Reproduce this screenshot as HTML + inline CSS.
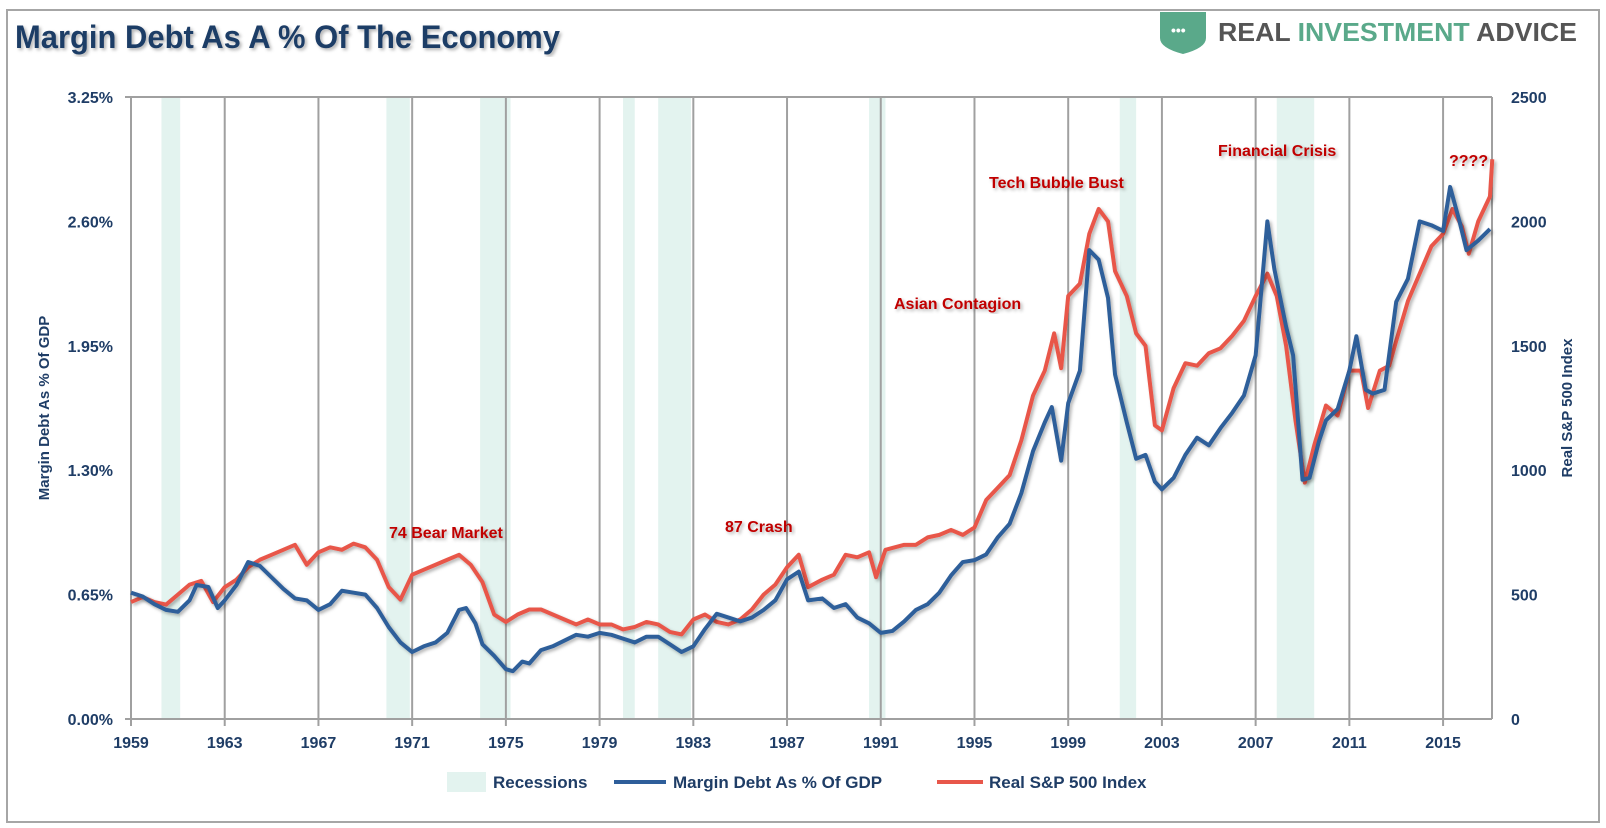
<!DOCTYPE html>
<html><head><meta charset="utf-8"><style>
body{margin:0;background:#fff}
svg{display:block}
text{font-family:"Liberation Sans",sans-serif;font-weight:bold}
</style></head><body>
<svg id="c" width="1606" height="828" xmlns="http://www.w3.org/2000/svg">
<defs>
<filter id="sh" x="-5%" y="-5%" width="110%" height="110%"><feDropShadow dx="2" dy="2" stdDeviation="1.5" flood-color="#000" flood-opacity="0.3"/></filter>
</defs>
<rect x="7" y="10" width="1592" height="812" fill="#fff" stroke="#a6a6a6" stroke-width="2"/>
<text x="15" y="48" font-size="32" fill="#1f3d66" textLength="545" lengthAdjust="spacingAndGlyphs" filter="url(#sh)">Margin Debt As A % Of The Economy</text>
<g>
<path d="M1160 12 h46 v26 q0 10 -23 16 q-23 -6 -23 -16z" fill="#5aa98a"/>
<text x="1171" y="35" font-size="14" fill="#fff">•••</text>
<text x="1218" y="41" font-size="26" fill="#555" textLength="359" lengthAdjust="spacingAndGlyphs">REAL <tspan fill="#5aa98a">INVESTMENT</tspan> ADVICE</text>
</g>
<g id="plot"></g>
<text transform="translate(49,408) rotate(-90)" text-anchor="middle" font-size="15" fill="#1f3d66">Margin Debt As % Of GDP</text>
<text transform="translate(1572,408) rotate(-90)" text-anchor="middle" font-size="15" fill="#1f3d66">Real S&amp;P 500 Index</text>
<g>
<rect x="447" y="772" width="39" height="20" fill="#e3f3ef"/>
<text x="493" y="788" font-size="17" fill="#1f3d66">Recessions</text>
<line x1="614" y1="782" x2="666" y2="782" stroke="#2e5e9a" stroke-width="4"/>
<text x="673" y="788" font-size="17" fill="#1f3d66">Margin Debt As % Of GDP</text>
<line x1="937" y1="782" x2="983" y2="782" stroke="#e8574a" stroke-width="4"/>
<text x="989" y="788" font-size="17" fill="#1f3d66">Real S&amp;P 500 Index</text>
</g>
</svg>
<script>
const recessions=[[1960.3,1961.1],[1969.9,1970.9],[1973.9,1975.2],[1980.0,1980.5],[1981.5,1982.9],[1990.5,1991.2],[2001.2,2001.9],[2007.9,2009.5]];
const leftTicks=[0,0.65,1.30,1.95,2.60,3.25];
const rightTicks=[0,500,1000,1500,2000,2500];
const yearTicks=[1959,1963,1967,1971,1975,1979,1983,1987,1991,1995,1999,2003,2007,2011,2015];
const marginYears=[1959.0,1959.5,1960.0,1960.5,1961.0,1961.5,1961.8,1962.3,1962.7,1963.0,1963.5,1964.0,1964.5,1965.0,1965.5,1966.0,1966.5,1967.0,1967.5,1968.0,1968.5,1969.0,1969.5,1970.0,1970.5,1971.0,1971.5,1972.0,1972.5,1973.0,1973.3,1973.7,1974.0,1974.5,1975.0,1975.3,1975.7,1976.0,1976.5,1977.0,1977.5,1978.0,1978.5,1979.0,1979.5,1980.0,1980.5,1981.0,1981.5,1982.0,1982.5,1983.0,1983.5,1984.0,1984.5,1985.0,1985.5,1986.0,1986.5,1987.0,1987.5,1987.9,1988.5,1989.0,1989.5,1990.0,1990.5,1991.0,1991.5,1992.0,1992.5,1993.0,1993.5,1994.0,1994.5,1995.0,1995.5,1996.0,1996.5,1997.0,1997.5,1998.0,1998.3,1998.7,1999.0,1999.5,1999.9,2000.3,2000.7,2001.0,2001.5,2001.9,2002.3,2002.7,2003.0,2003.5,2004.0,2004.5,2005.0,2005.5,2006.0,2006.5,2007.0,2007.5,2007.8,2008.3,2008.6,2009.0,2009.3,2009.7,2010.0,2010.5,2011.0,2011.3,2011.7,2012.0,2012.5,2013.0,2013.5,2014.0,2014.5,2015.0,2015.3,2015.7,2016.0,2016.5,2017.0];
const marginValues=[0.66,0.64,0.60,0.57,0.56,0.62,0.70,0.69,0.58,0.62,0.70,0.82,0.80,0.74,0.68,0.63,0.62,0.57,0.60,0.67,0.66,0.65,0.58,0.48,0.40,0.35,0.38,0.40,0.45,0.57,0.58,0.50,0.39,0.33,0.26,0.25,0.30,0.29,0.36,0.38,0.41,0.44,0.43,0.45,0.44,0.42,0.40,0.43,0.43,0.39,0.35,0.38,0.47,0.55,0.53,0.51,0.53,0.57,0.62,0.73,0.77,0.62,0.63,0.58,0.60,0.53,0.50,0.45,0.46,0.51,0.57,0.60,0.66,0.75,0.82,0.83,0.86,0.95,1.02,1.18,1.40,1.55,1.63,1.35,1.65,1.82,2.45,2.40,2.20,1.80,1.55,1.36,1.38,1.24,1.20,1.26,1.38,1.47,1.43,1.52,1.60,1.69,1.90,2.60,2.35,2.05,1.90,1.25,1.26,1.45,1.56,1.62,1.82,2.00,1.72,1.70,1.72,2.18,2.30,2.60,2.58,2.55,2.78,2.60,2.45,2.50,2.56];
const spYears=[1959.0,1959.5,1960.0,1960.5,1961.0,1961.5,1962.0,1962.5,1963.0,1963.5,1964.0,1964.5,1965.0,1965.5,1966.0,1966.5,1967.0,1967.5,1968.0,1968.5,1969.0,1969.5,1970.0,1970.5,1971.0,1971.5,1972.0,1972.5,1973.0,1973.5,1974.0,1974.5,1975.0,1975.5,1976.0,1976.5,1977.0,1977.5,1978.0,1978.5,1979.0,1979.5,1980.0,1980.5,1981.0,1981.5,1982.0,1982.5,1983.0,1983.5,1984.0,1984.5,1985.0,1985.5,1986.0,1986.5,1987.0,1987.5,1987.9,1988.5,1989.0,1989.5,1990.0,1990.5,1990.8,1991.2,1992.0,1992.5,1993.0,1993.5,1994.0,1994.5,1995.0,1995.5,1996.0,1996.5,1997.0,1997.5,1998.0,1998.4,1998.7,1999.0,1999.5,1999.9,2000.3,2000.7,2001.0,2001.5,2001.9,2002.3,2002.7,2003.0,2003.5,2004.0,2004.5,2005.0,2005.5,2006.0,2006.5,2007.0,2007.5,2007.9,2008.3,2008.7,2009.1,2009.5,2010.0,2010.5,2011.0,2011.5,2011.8,2012.3,2012.7,2013.0,2013.5,2014.0,2014.5,2015.0,2015.4,2015.8,2016.1,2016.5,2017.0,2017.1];
const spValues=[470,490,470,460,500,540,555,470,530,560,610,640,660,680,700,620,670,690,680,705,690,640,530,480,580,600,620,640,660,620,550,420,390,420,440,440,420,400,380,400,380,380,360,370,390,380,350,340,400,420,390,380,400,440,500,540,610,660,530,560,580,660,650,670,570,680,700,700,730,740,760,740,770,880,930,980,1120,1300,1400,1550,1410,1700,1750,1950,2050,2000,1800,1700,1550,1500,1180,1160,1330,1430,1420,1470,1490,1540,1600,1700,1790,1700,1500,1200,950,1100,1260,1220,1400,1400,1250,1400,1420,1520,1680,1790,1900,1950,2050,1980,1870,2000,2100,2250];
const annotations=[["74 Bear Market",389,538],["87 Crash",725,532],["Asian Contagion",894,309],["Tech Bubble Bust",989,188],["Financial Crisis",1218,156],["????",1449,166]];

const X0=131,X1=1492,Y0=719,Y1=97,YR0=1959,PPY=23.43;
const xs=y=>X0+(y-YR0)*PPY;
const yl=v=>Y0-(v/3.25)*(Y0-Y1);
const yr=v=>Y0-(v/2500)*(Y0-Y1);
const NS="http://www.w3.org/2000/svg";
const g=document.getElementById('plot');
function mk(t,a){const e=document.createElementNS(NS,t);for(const k in a)e.setAttribute(k,a[k]);g.appendChild(e);return e;}

recessions.forEach(r=>{
  const e=mk('rect',{x:xs(r[0]),y:Y1,width:xs(r[1])-xs(r[0]),height:Y0-Y1,fill:'#e3f3ef'});
  
  
});
yearTicks.forEach(yv=>{
  const x=xs(yv);
  const l=mk('line',{x1:x,y1:Y1,x2:x,y2:Y0+7,stroke:'#a0a0a0','stroke-width':2});
  
  
  const t=mk('text',{x:x,y:Y0+29,'text-anchor':'middle','font-size':16,fill:'#1f3d66'});
  t.textContent=yv;
  
  
});
[[X0-6,Y1,X1,Y1],[X0-6,Y0,X1,Y0],[X1,Y1,X1,Y0]].forEach(c=>{
  const l=mk('line',{x1:c[0],y1:c[1],x2:c[2],y2:c[3],stroke:'#a0a0a0','stroke-width':2});
  
  
});
leftTicks.forEach(v=>{
  const t=mk('text',{x:113,y:yl(v)+6,'text-anchor':'end','font-size':16,fill:'#1f3d66'});
  t.textContent=v.toFixed(2)+'%';
  
  
});
rightTicks.forEach(v=>{
  const t=mk('text',{x:1511,y:yr(v)+6,'font-size':16,fill:'#1f3d66'});
  t.textContent=v;
  
  
});
const sp=mk('polyline',{points:spYears.map((y,i)=>xs(y)+','+yr(spValues[i])).join(' '),fill:'none',stroke:'#e8574a','stroke-width':4,'stroke-linejoin':'round',filter:'url(#sh)'});


const md=mk('polyline',{points:marginYears.map((y,i)=>xs(y)+','+yl(marginValues[i])).join(' '),fill:'none',stroke:'#2e5e9a','stroke-width':4,'stroke-linejoin':'round',filter:'url(#sh)'});


annotations.forEach(a=>{
  const t=mk('text',{x:a[1],y:a[2],'font-size':16,fill:'#c00000',filter:'url(#sh)'});
  t.textContent=a[0];
  
  
});
</script>
</body></html>
